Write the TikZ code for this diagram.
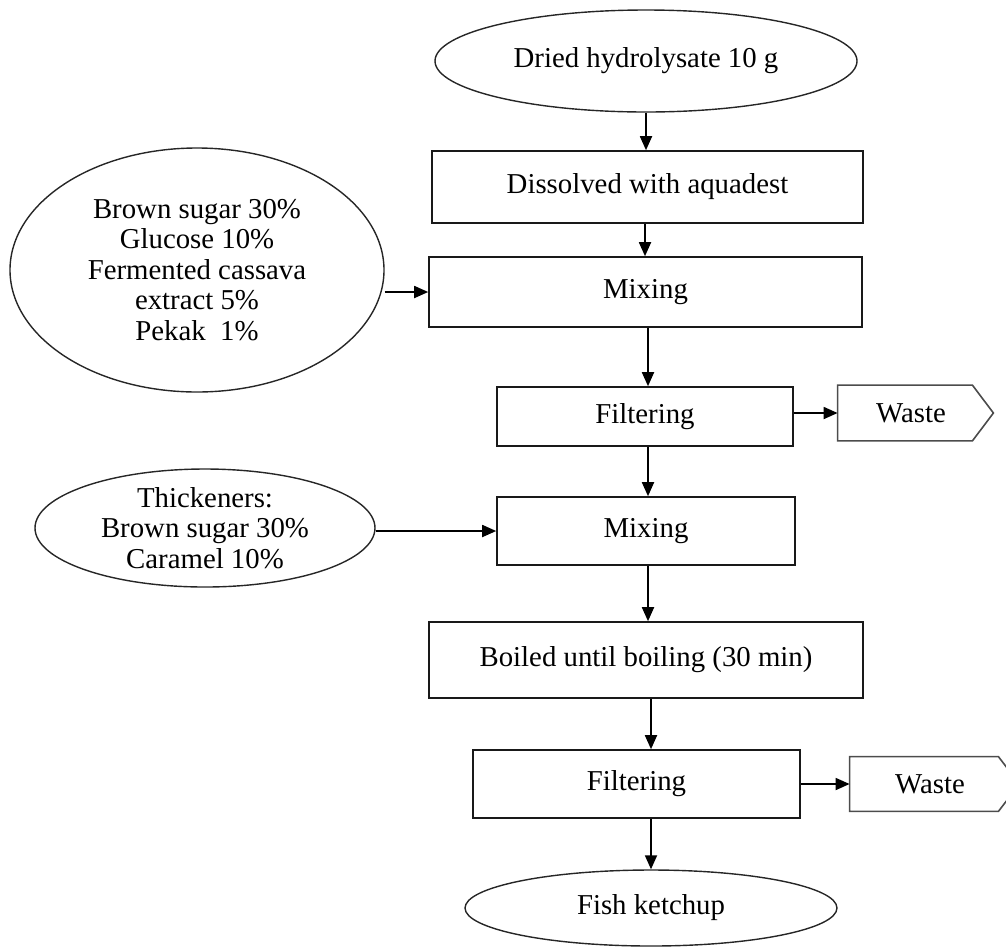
\documentclass[tikz,border=0pt]{standalone}
\usepackage{fontspec}
\setmainfont{Liberation Serif}
\usetikzlibrary{shapes.geometric,arrows.meta}
\begin{document}
\begin{tikzpicture}[x=0.5pt,y=-0.5pt,
  every node/.style={font=\fontsize{14.4}{15.3}\selectfont, inner sep=0pt},
  ell/.style={ellipse, draw=black!85, line width=0.7pt},
  box/.style={rectangle, draw=black!90, line width=0.8pt},
  arr/.style={line width=0.9pt, -{Triangle[length=7pt,width=6pt]}},
  wst/.style={draw=black!70, line width=0.8pt}]
\useasboundingbox (0,0) rectangle (1006,949);
\node[ell, minimum width=211pt, minimum height=51pt] (top) at (646,61) {Dried hydrolysate 10 g};
\node[box, minimum width=215.5pt, minimum height=36pt] (diss) at (647.5,187) {Dissolved with aquadest};
\node[box, minimum width=216.5pt, minimum height=35pt] (mix1) at (645.5,292) {Mixing};
\node[ell, minimum width=187pt, minimum height=122pt, align=center] (ell1) at (197,270)
  {Brown sugar 30\%\\Glucose 10\%\\Fermented cassava\\extract 5\%\\Pekak\ \ 1\%};
\node[box, minimum width=148pt, minimum height=29.5pt] (filt1) at (645,416.5) {Filtering};
\node[minimum width=67pt, minimum height=27.5pt] (w1) at (905,413) {\hspace*{6pt}Waste};
\node[box, minimum width=149pt, minimum height=34pt] (mix2) at (646,531) {Mixing};
\node[ell, minimum width=170pt, minimum height=59pt, align=center] (ell2) at (205,528)
  {Thickeners:\\Brown sugar 30\%\\Caramel 10\%};
\node[box, minimum width=217pt, minimum height=38pt] (boil) at (646,660) {Boiled until boiling (30 min)};
\node[box, minimum width=163.5pt, minimum height=34pt] (filt2) at (636.5,784) {Filtering};
\node[minimum width=74pt, minimum height=27pt] (w2) at (924,784) {\hspace*{6pt}Waste};
\node[ell, minimum width=186pt, minimum height=38pt] (fish) at (651,908) {Fish ketchup};
% waste outlines
\draw[wst] (w1.north west) -- (w1.north east) -- ([xshift=10.5pt]w1.east) -- (w1.south east) -- (w1.south west) -- cycle;
\draw[wst] (w2.north west) -- (w2.north east) -- ([xshift=10.5pt]w2.east) -- (w2.south east) -- (w2.south west) -- cycle;
% connectors
\draw[arr] (top.south) -- (top.south |- diss.north);
\draw[arr] (diss.south -| filt1.north) -- (mix1.north -| filt1.north);
\draw[arr] (ell1.east |- mix1.west) -- (mix1.west);
\draw[arr] ([xshift=1.25pt]mix1.south) -- ([xshift=1.25pt]mix1.south |- filt1.north);
\draw[arr] (filt1.east |- w1.west) -- (w1.west);
\draw[arr] ([xshift=1.5pt]filt1.south) -- ([xshift=1.5pt]filt1.south |- mix2.north);
\draw[arr] (ell2.east |- mix2.west) -- (mix2.west);
\draw[arr] ([xshift=1pt]mix2.south) -- ([xshift=1pt]mix2.south |- boil.north);
\draw[arr] (boil.south -| fish.north) -- (filt2.north -| fish.north);
\draw[arr] (filt2.east |- w2.west) -- (w2.west);
\draw[arr] (filt2.south -| fish.north) -- (fish.north);
\end{tikzpicture}
\end{document}
